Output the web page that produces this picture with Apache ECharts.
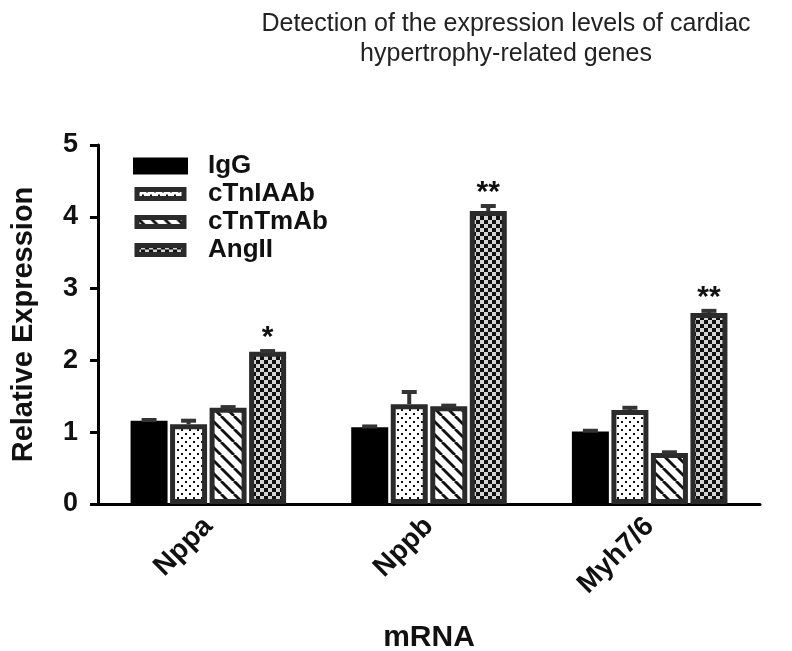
<!DOCTYPE html>
<html><head><meta charset="utf-8">
<script src="https://cdn.jsdelivr.net/npm/echarts@6/dist/echarts.min.js"></script>
<style>html,body{margin:0;padding:0;background:#fff}#c{width:792px;height:651px}</style>
</head><body><div id="c"></div>
<script>
// ---- data ----
const categories = ['Nppa', 'Nppb', 'Myh7/6'];
const seriesNames = ['IgG', 'cTnIAAb', 'cTnTmAb', 'AngII'];
const igG = [1.16, 1.07, 1.01];
const cTnIAAb = [1.11, 1.39, 1.31];
const cTnTmAb = [1.34, 1.36, 0.71];
const angII = [2.12, 4.08, 2.66];
const igGErr = [0.01, 0.01, 0.01];
const cTnIAAbErr = [0.05, 0.17, 0.03];
const cTnTmAbErr = [0.01, 0.01, 0.01];
const angIIErr = [0.01, 0.07, 0.03];
const angIISig = ['*', '**', '**'];
const yMin = 0, yMax = 5, yStep = 1;

// ---- patterns ----
function makeCanvas(w, h, draw) {
  const c = document.createElement('canvas');
  c.width = w; c.height = h;
  draw(c.getContext('2d'), w, h);
  return c;
}
const dotPattern = makeCanvas(8, 8, (g, w, h) => {
  g.fillStyle = '#fff'; g.fillRect(0, 0, w, h);
  g.fillStyle = '#111';
  g.fillRect(1, 1, 2, 2);
  g.fillRect(5, 5, 2, 2);
});
const stripePattern = makeCanvas(13, 13, (g, w, h) => {
  g.fillStyle = '#fff'; g.fillRect(0, 0, w, h);
  g.strokeStyle = '#111'; g.lineWidth = 2.8;
  for (const o of [-w, 0, w]) {
    g.beginPath(); g.moveTo(o, 0); g.lineTo(o + w, h); g.stroke();
  }
});
const checkPattern = makeCanvas(8, 8, (g, w, h) => {
  g.fillStyle = '#d4d4d4'; g.fillRect(0, 0, w, h);
  g.fillStyle = '#111';
  g.fillRect(0, 0, 4, 4);
  g.fillRect(4, 4, 4, 4);
});

const FONT = '"Liberation Sans", Arial, sans-serif';
const BAR_W = 37, BAR_GAP = 0.068;
const values = [igG, cTnIAAb, cTnTmAb, angII];
const errs = [igGErr, cTnIAAbErr, cTnTmAbErr, angIIErr];
const fills = [
  '#000',
  { image: dotPattern, repeat: 'repeat' },
  { image: stripePattern, repeat: 'repeat' },
  { image: checkPattern, repeat: 'repeat' }
];

const barSeries = seriesNames.map((n, si) => ({
  type: 'bar', name: n, data: values[si],
  barWidth: BAR_W, barGap: (BAR_GAP * 100) + '%',
  itemStyle: { color: fills[si], borderColor: '#2b2b2b', borderWidth: si === 0 ? 0 : 5 },
  z: 2
}));

function errSeries(si, sig) {
  return {
    type: 'custom', name: seriesNames[si] + '_err', z: 5, silent: true,
    data: values[si].map((v, i) => [i, v, v + errs[si][i]]),
    renderItem(params, api) {
      const ci = api.value(0);
      const base = api.coord([ci, api.value(1)]);
      const top = api.coord([ci, api.value(2)]);
      const x = base[0] + (si - 1.5) * BAR_W * (1 + BAR_GAP);
      const children = [
        { type: 'line', shape: { x1: x, y1: base[1], x2: x, y2: top[1] }, style: { stroke: '#333', lineWidth: 4 } },
        { type: 'line', shape: { x1: x - 7.5, y1: top[1], x2: x + 7.5, y2: top[1] }, style: { stroke: '#333', lineWidth: 4 } }
      ];
      if (sig) {
        children.push({ type: 'text', style: {
          text: sig[params.dataIndex], x: x, y: top[1] + 2,
          align: 'center', verticalAlign: 'bottom',
          font: 'bold 30px ' + FONT, fill: '#111' } });
      }
      return { type: 'group', children };
    }
  };
}

const chart = echarts.init(document.getElementById('c'), null, { renderer: 'canvas' });
chart.setOption({
  animation: false,
  backgroundColor: '#fff',
  title: {
    text: 'Detection of the expression levels of cardiac\nhypertrophy-related genes',
    left: 501, top: 4, textAlign: 'center',
    textStyle: { fontFamily: FONT, fontWeight: 'normal', fontSize: 25, color: '#222', lineHeight: 30 }
  },
  legend: {
    data: [
      { name: 'IgG', icon: 'rect', itemStyle: { color: '#000', borderColor: '#000', borderWidth: 8 } },
      { name: 'cTnIAAb', icon: 'rect' },
      { name: 'cTnTmAb', icon: 'rect' },
      { name: 'AngII', icon: 'rect' }
    ],
    orient: 'vertical', left: 133, top: 153, padding: 0,
    itemWidth: 47, itemHeight: 9, itemGap: 2,
    itemStyle: { borderWidth: 5, borderColor: '#2b2b2b' },
    textStyle: { fontFamily: FONT, fontWeight: 'bold', fontSize: 26, lineHeight: 26, color: '#111', padding: [0, 0, 0, 19] }
  },
  grid: { left: 98, right: 32, top: 145, bottom: 147, containLabel: false, outerBoundsMode: 'none' },
  xAxis: {
    type: 'category', data: categories,
    name: 'mRNA', nameLocation: 'middle', nameGap: 119,
    nameTextStyle: { fontFamily: FONT, fontWeight: 'bold', fontSize: 30, color: '#111' },
    axisLine: { lineStyle: { color: '#000', width: 3 } },
    axisTick: { alignWithLabel: true, length: 8, lineStyle: { color: '#000', width: 3 } },
    axisLabel: { rotate: 45, margin: 18, fontFamily: FONT, fontWeight: 'bold', fontSize: 28, color: '#111' }
  },
  yAxis: {
    type: 'value', min: yMin, max: yMax, interval: yStep,
    name: 'Relative Expression', nameLocation: 'middle', nameGap: 60, nameRotate: 90,
    nameTextStyle: { fontFamily: FONT, fontWeight: 'bold', fontSize: 29, color: '#111' },
    axisLine: { show: true, lineStyle: { color: '#000', width: 3 } },
    axisTick: { show: true, length: 8, lineStyle: { color: '#000', width: 3 } },
    splitLine: { show: false },
    axisLabel: { margin: 20, fontFamily: FONT, fontWeight: 'bold', fontSize: 27, color: '#111' }
  },
  series: [...barSeries, errSeries(0), errSeries(1), errSeries(2), errSeries(3, angIISig)]
});
</script></body></html>
